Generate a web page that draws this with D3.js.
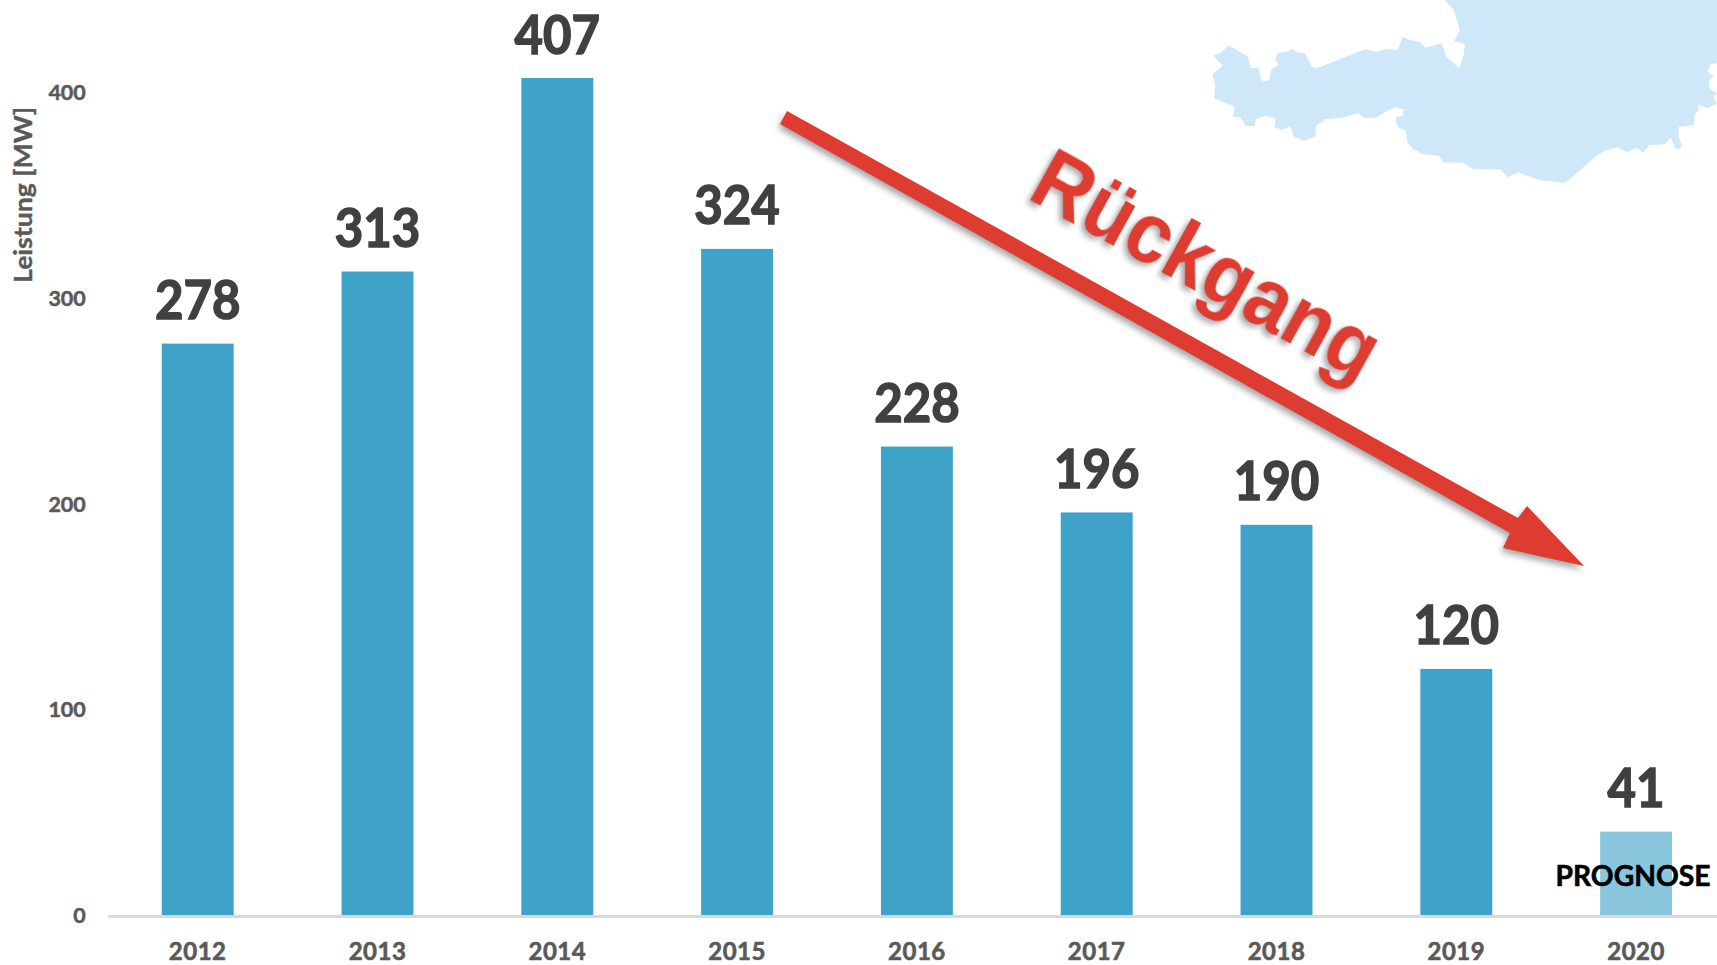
<!DOCTYPE html>
<html lang="de">
<head>
<meta charset="utf-8">
<script src="https://cdn.jsdelivr.net/npm/d3@7"></script>
<style>
html,body{margin:0;padding:0;background:#fff;overflow:hidden}
svg{display:block}
text{font-family:Lato,"Open Sans",sans-serif;font-weight:700}
</style>
</head>
<body>
<svg id="chart" width="1717" height="965"></svg>
<script>
const years = ["2012","2013","2014","2015","2016","2017","2018","2019","2020"];
const values = [278,313,407,324,228,196,190,120,41];
const forecastYears = ["2020"];
const yTicks = [0,100,200,300,400];
const yTitle = "Leistung [MW]";
const trendLabel = "Rückgang";
const forecastLabel = "PROGNOSE";
const colors = {bar:"#3FA2C8",forecast:"#8AC6DD",label:"#404040",tick:"#595959",axis:"#D9D9D9",map:"#CFE8F9",arrow:"#DE3B31"};

// decorative map outline, traced in crop coordinates
const mapOutline = [[772,0],[800,30],[805,50],[817,90],[800,123],[832,133],[828,165],[815,205],[778,170],[763,130],[717,143],[700,125],[670,120],[650,110],[636,150],[600,147],[575,155],[540,148],[400,205],[385,200],[365,160],[340,157],[328,146],[308,157],[285,158],[278,175],[287,195],[267,208],[260,240],[238,245],[230,205],[207,203],[198,170],[143,136],[120,157],[97,167],[125,197],[95,222],[103,255],[100,295],[160,320],[155,350],[178,352],[190,378],[218,378],[222,357],[250,348],[280,356],[275,382],[298,390],[322,378],[332,410],[363,422],[395,410],[397,378],[425,358],[480,352],[520,340],[540,355],[575,352],[605,332],[630,322],[652,328],[650,348],[632,350],[630,365],[640,385],[660,392],[663,425],[680,447],[710,463],[757,468],[768,487],[825,488],[858,508],[935,508],[958,532],[987,517],[1050,540],[1125,548],[1220,465],[1240,452],[1278,442],[1305,456],[1335,443],[1352,458],[1370,436],[1415,433],[1433,413],[1445,445],[1457,448],[1466,435],[1455,410],[1456,381],[1500,375],[1503,345],[1515,330],[1512,315],[1540,325],[1568,310],[1558,290],[1568,280],[1545,265],[1545,240],[1558,228],[1540,215],[1550,192],[1568,190],[1568,0]];
// decorative trend arrow outline
const arrowOutline = [[787,111],[1518,518],[1527,506],[1584,566],[1503,548],[1510,533],[780,124]];

const svg = d3.select("#chart");
const x = d3.scaleBand().domain(years).range([107.8,1726]).paddingInner(0.6).paddingOuter(0.3);
const y = d3.scaleLinear().domain([0,407]).range([916,78]);

svg.append("path")
  .attr("transform","translate(1180,0) scale(0.3425,0.3333)")
  .attr("d",d3.line()(mapOutline)+"Z")
  .attr("fill",colors.map);

svg.append("g").selectAll("rect").data(years).join("rect")
  .attr("x",d=>x(d))
  .attr("width",x.bandwidth())
  .attr("y",(d,i)=>y(values[i]))
  .attr("height",(d,i)=>y(0)-y(values[i]))
  .attr("fill",d=>forecastYears.includes(d)?colors.forecast:colors.bar);

const xAxis = svg.append("g").attr("transform",`translate(0,${y(0)})`)
  .call(d3.axisBottom(x).tickSize(0).tickPadding(26.8));
xAxis.select(".domain").attr("stroke",colors.axis).attr("stroke-width",3);
xAxis.selectAll("text").attr("fill",colors.tick).attr("font-size",24)
  .attr("font-family","Lato").attr("font-weight",700)
  .attr("letter-spacing",0.5)
  .attr("stroke",colors.tick).attr("stroke-width",0.6);

const yAxis = svg.append("g").attr("transform","translate(108.8,0)")
  .call(d3.axisLeft(y).tickValues(yTicks).tickSize(0).tickPadding(23));
yAxis.select(".domain").remove();
yAxis.selectAll("text").attr("fill",colors.tick).attr("font-size",21.5)
  .attr("font-family","Lato").attr("font-weight",700)
  .attr("stroke",colors.tick).attr("stroke-width",0.5);

svg.append("text")
  .attr("transform","translate(32,195) rotate(-90)")
  .attr("text-anchor","middle")
  .attr("font-size",25)
  .attr("fill",colors.tick)
  .attr("stroke",colors.tick).attr("stroke-width",0.4)
  .attr("textLength",176).attr("lengthAdjust","spacingAndGlyphs")
  .text(yTitle);

svg.append("g").selectAll("text").data(years).join("text")
  .attr("x",d=>x(d)+x.bandwidth()/2)
  .attr("y",(d,i)=>y(values[i])-24.5)
  .attr("text-anchor","middle")
  .attr("font-size",53)
  .attr("fill",colors.label)
  .attr("stroke",colors.label).attr("stroke-width",1.5)
  .attr("textLength",(d,i)=>String(values[i]).length*28.5)
  .attr("lengthAdjust","spacingAndGlyphs")
  .text((d,i)=>values[i]);

svg.append("text")
  .attr("x",1633).attr("y",886)
  .attr("text-anchor","middle")
  .attr("font-size",29)
  .attr("fill","#000")
  .attr("stroke","#000").attr("stroke-width",0.6)
  .attr("textLength",155).attr("lengthAdjust","spacingAndGlyphs")
  .text(forecastLabel);

svg.append("path")
  .attr("d",d3.line()(arrowOutline)+"Z")
  .attr("fill",colors.arrow)
  .style("filter","drop-shadow(-2px 4px 3px rgba(0,0,0,.35))");

svg.append("text")
  .attr("transform","translate(1026,197) rotate(29) scale(0.92,1)")
  .attr("font-size",86)
  .attr("fill",colors.arrow)
  .style("font-family","'Liberation Sans'")
  .style("filter","drop-shadow(-2px 4px 3px rgba(0,0,0,.35))")
  .text(trendLabel);
</script>
</body>
</html>
